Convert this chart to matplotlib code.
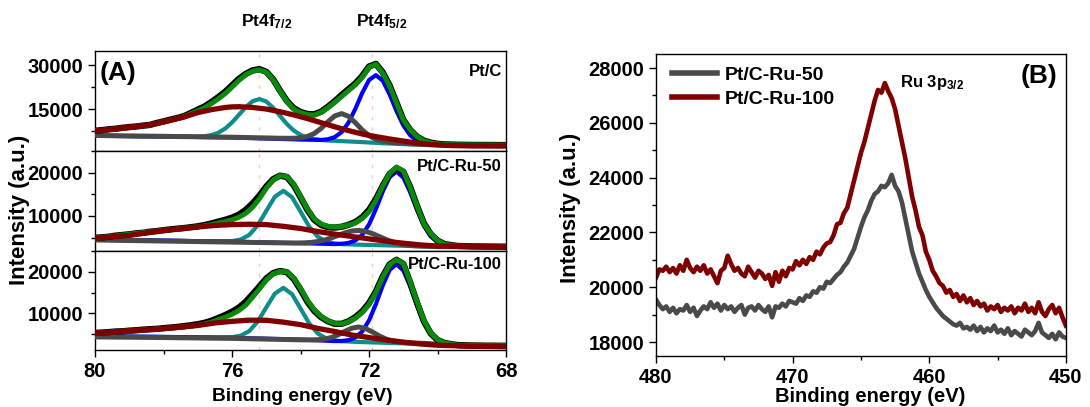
"""Pt 4f deconvolution (three catalysts) and Ru 3p3/2 region, XPS."""
import matplotlib
matplotlib.use("Agg")
import matplotlib.pyplot as plt
import numpy as np
from matplotlib.ticker import MultipleLocator, FixedLocator

plt.rcParams["font.family"] = ["Liberation Sans", "DejaVu Sans"]
plt.rcParams["font.weight"] = "bold"
plt.rcParams["mathtext.fontset"] = "custom"
plt.rcParams["mathtext.rm"] = "Liberation Sans:bold"
plt.rcParams["mathtext.it"] = "Liberation Sans:bold"
plt.rcParams["mathtext.bf"] = "Liberation Sans:bold"

# ---------------- Pt 4f (panel A) ----------------
# measured scan grid, 80 -> 68 eV in 0.2 eV steps
be_scan = np.linspace(80.0, 68.0, 61)

# Pt/C
ptc_raw = [7600, 7800, 8100, 8300, 8600, 8850, 9050, 9350, 9600, 10250, 10800, 11400, 11950, 12600, 13700,
           14800, 15900, 17400, 19100, 20900, 23100, 25300, 27000, 28200, 28600, 27700, 25100, 21300, 17800,
           15300, 14000, 13300, 13200, 14100, 15800, 17700, 19800, 21800, 23700, 26300, 29500, 30400, 27500,
           23000, 17200, 11300, 7900, 5600, 4250, 3550, 3150, 2950, 2900, 2820, 2800, 2760, 2760, 2740, 2730,
           2720, 2710]
ptc_fit = [7500, 7750, 8000, 8260, 8520, 8770, 9030, 9280, 9540, 10120, 10700, 11280, 11850, 12430, 13450,
           14450, 15450, 16900, 18500, 20300, 22500, 24800, 26700, 27900, 28350, 27600, 25000, 21200, 17600,
           15000, 13800, 13100, 12950, 13900, 15500, 17300, 19300, 21300, 23300, 25800, 29300, 30300, 27300,
           22800, 17000, 11200, 8000, 5600, 4200, 3500, 3100, 2950, 2850, 2800, 2780, 2750, 2740, 2730, 2720,
           2710, 2700]
ptc_bg_x = [80, 78, 76, 75, 74, 73, 72.4, 72, 71.6, 71.2, 70.8, 70.4, 70, 69, 68]
ptc_bg = [5900, 5650, 5300, 5050, 4600, 4150, 3850, 3600, 3350, 3100, 2950, 2850, 2800, 2750, 2700]
ptc_teal_x = [80, 78, 77.2, 77.0, 76.8, 76.6, 76.4, 76.2, 76.0, 75.8, 75.6, 75.4, 75.2, 75.0, 74.8, 74.6,
              74.4, 74.2, 74.0, 73.8, 73.6, 73.4, 73.2, 72.4, 71.6, 70.8, 70, 68]
ptc_teal = [5900, 5650, 5545, 5590, 5730, 6130, 6940, 8350, 10430, 13040, 15680, 17680, 18400, 17580, 15440,
            12660, 9910, 7700, 6170, 5230, 4710, 4440, 4275, 3850, 3350, 2950, 2800, 2700]
ptc_blue_x = [80, 78, 76, 74, 73.4, 73.2, 73.0, 72.8, 72.6, 72.4, 72.2, 72.0, 71.8, 71.6, 71.4, 71.2, 71.0,
              70.8, 70.6, 70.4, 70.2, 70, 69, 68]
ptc_blue = [5900, 5650, 5300, 4600, 4470, 4700, 5440, 7170, 10370, 15100, 20490, 24920, 26570, 24670, 19990,
            14350, 9440, 6070, 4190, 3310, 2960, 2800, 2750, 2700]
ptc_gray_x = [80, 78, 76, 74.6, 74.4, 74.2, 74.0, 73.8, 73.6, 73.4, 73.2, 73.0, 72.8, 72.6, 72.4, 72.2, 72.0,
              71.8, 71.6, 71.4, 71.2, 71.0, 70.6, 70.2, 69, 68]
ptc_gray = [6000, 5700, 5400, 5050, 5020, 5050, 5205, 5650, 6660, 8420, 10680, 12670, 13450, 12520, 10330,
            7870, 5910, 4700, 4055, 3720, 3500, 3350, 3050, 2850, 2750, 2700]
ptc_red_x = [80, 79, 78.4, 78, 77.4, 77, 76.6, 76.2, 76, 75.8, 75.4, 75, 74.6, 74.2, 73.8, 73.4, 73, 72.6,
             72.2, 71.8, 71.4, 71, 70.6, 70.2, 69.6, 69, 68]
ptc_red = [7500, 8770, 9540, 10600, 12300, 13800, 14800, 15550, 15750, 15800, 15550, 15000, 14100, 13000,
           11750, 10350, 8950, 7650, 6500, 5600, 4800, 4100, 3400, 2900, 2550, 2450, 2400]

# Pt/C-Ru-50
ru50_raw = [4950, 5050, 5200, 5450, 5600, 5750, 5980, 6100, 6350, 6500, 6700, 6900, 7050, 7200, 7400, 7600,
            7900, 8250, 8700, 9100, 9600, 10300, 11400, 12900, 14700, 16800, 18500, 19300, 19000, 17100,
            14300, 11400, 9100, 7900, 7400, 7300, 7500, 7950, 8600, 9700, 11400, 13900, 17000, 19700, 21000,
            20200, 16700, 12300, 8300, 5800, 4300, 3500, 3250, 3050, 3020, 2960, 2950, 2930, 2920, 2900, 2900]
ru50_fit = [4850, 5030, 5210, 5400, 5580, 5760, 5940, 6120, 6300, 6490, 6670, 6840, 7000, 7170, 7330, 7500,
            7720, 8000, 8350, 8700, 9100, 9700, 10600, 12000, 14000, 16400, 18300, 19300, 19100, 17300,
            14500, 11600, 9300, 8100, 7600, 7450, 7550, 7900, 8400, 9400, 11000, 13600, 16900, 19800, 21300,
            20400, 16600, 12300, 8200, 5900, 4300, 3500, 3200, 3050, 3000, 2950, 2930, 2920, 2910, 2910, 2900]
ru50_bg_x = [80, 78, 76, 75, 74, 73, 72, 71, 70, 69, 68]
ru50_bg = [4500, 4300, 4050, 3900, 3700, 3500, 3300, 3100, 2950, 2900, 2900]
ru50_teal_x = [80, 78, 76.5, 76.25, 76.0, 75.75, 75.5, 75.25, 75.0, 74.75, 74.5, 74.25, 74.0, 73.75, 73.5,
               73.25, 73.0, 72.75, 72.5, 71, 70, 68]
ru50_teal = [4500, 4300, 4110, 4110, 4180, 4540, 5600, 7840, 11180, 14430, 15800, 14330, 10980, 7550, 5220,
             4080, 3630, 3480, 3400, 3100, 2950, 2900]
ru50_blue_x = [80, 78, 76, 74, 73, 72.8, 72.6, 72.4, 72.2, 72.0, 71.8, 71.6, 71.4, 71.2, 71.0, 70.8, 70.6,
               70.4, 70.2, 70.0, 69.8, 69.6, 69, 68]
ru50_blue = [4500, 4300, 4050, 3700, 3500, 3560, 3760, 4340, 5650, 8050, 11590, 15630, 18960, 20240, 18880,
             15480, 11370, 7760, 5290, 3910, 3280, 3030, 2900, 2900]
ru50_gray_x = [80, 78, 76, 74.3, 74.1, 73.9, 73.7, 73.5, 73.3, 73.1, 72.9, 72.7, 72.5, 72.3, 72.1, 71.9,
               71.7, 71.5, 71.3, 71.1, 70.9, 70.7, 70.5, 70.3, 70, 69, 68]
ru50_gray = [4450, 4200, 3950, 3750, 3750, 3780, 3875, 4080, 4420, 4920, 5520, 6110, 6530, 6660, 6430, 5910,
             5230, 4540, 3960, 3540, 3275, 3110, 3030, 2970, 2920, 2900, 2900]
ru50_red_x = [80, 79, 78, 77.5, 77, 76.5, 76, 75.5, 75, 74.5, 74, 73.5, 73, 72.5, 72, 71.5, 71, 70.5, 70,
              69, 68]
ru50_red = [4850, 5500, 6650, 7050, 7450, 7800, 8000, 8080, 8000, 7600, 7100, 6400, 5800, 5250, 4700, 4150,
            3700, 3300, 3050, 2950, 2900]

# Pt/C-Ru-100
ru100_raw = [5300, 5400, 5500, 5650, 5700, 5850, 5950, 6100, 6200, 6300, 6450, 6600, 6750, 6950, 7150, 7400,
             7750, 8250, 8900, 9600, 10400, 11400, 12800, 14600, 16500, 18400, 19700, 20200, 19900, 18300,
             15700, 12800, 10600, 9100, 8100, 7500, 7500, 8100, 9100, 10500, 12500, 15300, 18900, 21800,
             22900, 21900, 17400, 12600, 8100, 5200, 3600, 2900, 2600, 2380, 2300, 2280, 2260, 2240, 2240,
             2220, 2200]
ru100_fit = [5220, 5330, 5440, 5560, 5670, 5790, 5900, 6020, 6130, 6250, 6370, 6500, 6650, 6800, 6980, 7180,
             7450, 7900, 8500, 9100, 9800, 10700, 12000, 13900, 15900, 18000, 19500, 20100, 20000, 18500,
             16000, 13100, 10900, 9300, 8200, 7600, 7500, 8000, 8900, 10200, 12200, 15000, 18700, 21700,
             22900, 22000, 17600, 12800, 8300, 5300, 3700, 2900, 2600, 2350, 2300, 2270, 2250, 2240, 2230,
             2220, 2200]
ru100_bg_x = [80, 78, 76, 75, 74, 73, 72, 71, 70, 69, 68]
ru100_bg = [4500, 4350, 4150, 4000, 3700, 3350, 3050, 2800, 2550, 2350, 2200]
ru100_teal_x = [80, 78, 76.5, 76.25, 76.0, 75.75, 75.5, 75.25, 75.0, 74.75, 74.5, 74.25, 74.0, 73.75, 73.5,
                73.25, 73.0, 72.75, 72.5, 72, 71, 70, 69, 68]
ru100_teal = [4500, 4350, 4200, 4210, 4285, 4650, 5740, 8040, 11470, 14780, 16150, 14630, 11170, 7610, 5190,
              3980, 3485, 3310, 3200, 3050, 2800, 2550, 2350, 2200]
ru100_blue_x = [80, 78, 76, 74, 73, 72.8, 72.6, 72.4, 72.2, 72.0, 71.8, 71.6, 71.4, 71.2, 71.0, 70.8, 70.6,
                70.4, 70.2, 70.0, 69.8, 69.6, 69, 68]
ru100_blue = [4500, 4350, 4150, 3700, 3350, 3360, 3580, 4210, 5670, 8330, 12250, 16740, 20440, 21850, 20340,
              16540, 11950, 7930, 5170, 3610, 2890, 2580, 2350, 2200]
ru100_gray_x = [80, 78, 76, 74.3, 74.1, 73.9, 73.7, 73.5, 73.3, 73.1, 72.9, 72.7, 72.5, 72.3, 72.1, 71.9,
                71.7, 71.5, 71.3, 71.1, 70.9, 70.7, 70.5, 70.3, 70, 69, 68]
ru100_gray = [4350, 4200, 4000, 3700, 3670, 3640, 3640, 3680, 3830, 4200, 4860, 5710, 6460, 6740, 6370,
              5530, 4580, 3820, 3350, 3100, 2970, 2880, 2820, 2760, 2600, 2350, 2200]
ru100_red_x = [80, 79, 78, 77.5, 77, 76.5, 76, 75.5, 75, 74.5, 74, 73.5, 73, 72.5, 72, 71.5, 71, 70.5, 70,
               69, 68]
ru100_red = [5220, 5790, 6370, 6700, 7100, 7700, 8100, 8380, 8350, 7900, 7300, 6400, 5650, 4800, 4200,
             3600, 3100, 2650, 2350, 2100, 2000]

# Pt(0) reference positions (dashed guides)
pt_ref = [75.2, 71.9]

# ---------------- Ru 3p3/2 (panel B) ----------------
# scan grid, 480 -> 450 eV in 0.25 eV steps
be_ru = np.linspace(480.0, 450.0, 121)
ru3p_50 = [19550, 19350, 19200, 19300, 19100, 19250, 19050, 19200, 19150, 19350, 19100, 19250, 18950, 19150,
           19300, 19200, 19450, 19250, 19400, 19150, 19350, 19200, 19300, 19100, 19250, 19350, 19000, 19250,
           19300, 19150, 19350, 19200, 19100, 19300, 18900, 19300, 19250, 19400, 19300, 19500, 19450,
           19400, 19600, 19500, 19700, 19650, 19850, 19800, 20000, 19950, 20200, 20150, 20300, 20450, 20550,
           20750, 20900, 21150, 21400, 21800, 22200, 22550, 22800, 23150, 23400, 23500, 23700, 23650, 23800,
           24100, 23700, 23500, 23100, 22500, 21900, 21300, 20900, 20500, 20200, 19900, 19650,
           19450, 19250, 19100, 18950, 18850, 18750, 18650, 18600, 18700, 18500, 18550, 18450, 18600, 18400,
           18550, 18350, 18500, 18400, 18600, 18350, 18450, 18300, 18500, 18250, 18400, 18300, 18200, 18450,
           18350, 18250, 18400, 18700, 18350, 18250, 18150, 18300, 18100, 18350, 18200, 18150]
ru3p_100 = [20350, 20650, 20600, 20750, 20550, 20700, 20500, 20800, 20600, 21000, 20700, 20550, 20750, 20600,
            20800, 20500, 20650, 20400, 20150, 20600, 20700, 21150, 20850, 20600, 20700, 20500, 20400, 20750,
            20550, 20350, 20600, 20500, 20300, 20450, 20050, 20550, 20200, 20600, 20400, 20700, 20650,
            20950, 20800, 21000, 20850, 21100, 21000, 21300, 21200, 21450, 21600, 21650, 21900, 22300, 22350,
            22700, 22900, 23400, 23900, 24400, 24900, 25300, 25800, 26300, 26800, 27200, 27100, 27450, 27150,
            26900, 26500, 25900, 25300, 24700, 24000, 23300, 22800, 22200, 21900, 21300, 21000,
            20600, 20400, 20150, 20050, 19800, 19900, 19650, 19750, 19500, 19700, 19450, 19600, 19350, 19500,
            19300, 19400, 19150, 19300, 19200, 19350, 19100, 19250, 19150, 19300, 19050, 19250, 19150, 19400,
            19100, 19250, 19050, 19450, 19100, 18950, 19200, 19350, 19050, 19250, 18900, 18600]

C_TEAL = "#0f8c8c"
C_BLUE = "#0000ff"
C_GRAY = "#4a4a4a"
C_RED = "#800000"
C_GREEN = "#0a8a0a"
C_BG = "#22ee22"

fig = plt.figure(figsize=(10.9, 4.07), dpi=100)

panel_a = [
    dict(name="Pt/C", raw=ptc_raw, fit=ptc_fit, bg=(ptc_bg_x, ptc_bg), teal=(ptc_teal_x, ptc_teal),
         blue=(ptc_blue_x, ptc_blue), gray=(ptc_gray_x, ptc_gray), red=(ptc_red_x, ptc_red),
         ylim=(700, 34800), major=[15000, 30000], minor=7500, rect=[0.0872, 0.629, 0.3771, 0.2457]),
    dict(name="Pt/C-Ru-50", raw=ru50_raw, fit=ru50_fit, bg=(ru50_bg_x, ru50_bg), teal=(ru50_teal_x, ru50_teal),
         blue=(ru50_blue_x, ru50_blue), gray=(ru50_gray_x, ru50_gray), red=(ru50_red_x, ru50_red),
         ylim=(1900, 25000), major=[10000, 20000], minor=5000, rect=[0.0872, 0.3833, 0.3771, 0.2457]),
    dict(name="Pt/C-Ru-100", raw=ru100_raw, fit=ru100_fit, bg=(ru100_bg_x, ru100_bg),
         teal=(ru100_teal_x, ru100_teal), blue=(ru100_blue_x, ru100_blue), gray=(ru100_gray_x, ru100_gray),
         red=(ru100_red_x, ru100_red), ylim=(1200, 25000), major=[10000, 20000], minor=5000,
         rect=[0.0872, 0.140, 0.3771, 0.2432]),
]

axes_a = []
for i, p in enumerate(panel_a):
    ax = fig.add_axes(p["rect"])
    for xr in pt_ref:
        ax.axvline(xr, color="#ffc4c4", lw=1.0, ls=(0, (2.5, 5)), zorder=0)
    ax.plot(*p["bg"], color=C_BG, lw=1.2, zorder=1)
    ax.plot(*p["teal"], color=C_TEAL, lw=3.0, zorder=2)
    ax.plot(*p["blue"], color=C_BLUE, lw=3.0, zorder=2)
    ax.plot(*p["gray"], color=C_GRAY, lw=3.6, zorder=3)
    ax.plot(be_scan, p["raw"], color="black", lw=4.6, zorder=4)
    ax.plot(be_scan, p["fit"], color=C_GREEN, lw=3.6, zorder=5)
    ax.plot(*p["red"], color=C_RED, lw=3.8, zorder=6)
    ax.set_xlim(80, 68)
    ax.set_ylim(*p["ylim"])
    ax.yaxis.set_major_locator(FixedLocator(p["major"]))
    ax.yaxis.set_minor_locator(MultipleLocator(p["minor"]))
    ax.xaxis.set_major_locator(FixedLocator([80, 76, 72, 68]))
    ax.xaxis.set_minor_locator(FixedLocator([78, 74, 70]))
    ax.tick_params(which="both", direction="out", width=1.0, labelsize=14.5, right=False, top=False)
    ax.tick_params(which="major", length=5)
    ax.tick_params(which="minor", length=3)
    if i < 2:
        ax.tick_params(axis="x", which="both", bottom=False, labelbottom=False)
    for s in ax.spines.values():
        s.set_linewidth(1.0)
    ax.text(0.99, [0.79, 0.843, 0.86][i], p["name"], transform=ax.transAxes, ha="right", va="center",
            fontsize=12, fontweight="bold", zorder=1)
    axes_a.append(ax)

axes_a[0].text(0.01, 0.78, "(A)", transform=axes_a[0].transAxes, ha="left", va="center",
               fontsize=19, fontweight="bold")
fig.text(0.221, 0.946, r"Pt4f$_{\mathregular{7/2}}$", ha="left", va="center", fontsize=12.5, fontweight="bold")
fig.text(0.327, 0.946, r"Pt4f$_{\mathregular{5/2}}$", ha="left", va="center", fontsize=12.5, fontweight="bold")
fig.text(0.277, 0.027, "Binding energy (eV)", ha="center", va="center", fontsize=13.8, fontweight="bold")
fig.text(0.018, 0.484, "Intensity (a.u.)", ha="center", va="center", rotation=90, fontsize=16,
         fontweight="bold")

# ---------------- panel B ----------------
axb = fig.add_axes([0.6018, 0.126, 0.3761, 0.7405])
axb.plot(be_ru, ru3p_50, color=C_GRAY, lw=3.3, label="Pt/C-Ru-50")
axb.plot(be_ru, ru3p_100, color=C_RED, lw=3.3, label="Pt/C-Ru-100")
axb.set_xlim(480, 450)
axb.set_ylim(17500, 28500)
axb.xaxis.set_major_locator(MultipleLocator(10))
axb.xaxis.set_minor_locator(MultipleLocator(5))
axb.yaxis.set_major_locator(MultipleLocator(2000))
axb.yaxis.set_minor_locator(MultipleLocator(1000))
axb.tick_params(which="both", direction="out", width=1.0, labelsize=14.5, right=False, top=False)
axb.tick_params(which="major", length=5)
axb.tick_params(which="minor", length=3)
for s in axb.spines.values():
    s.set_linewidth(1.0)
leg = axb.legend(loc="upper left", bbox_to_anchor=(0.02, 0.985), frameon=False, fontsize=14,
                 handlelength=2.3, handletextpad=0.4, labelspacing=0.3, borderaxespad=0)
for h in leg.get_lines():
    h.set_linewidth(4.0)
axb.text(0.595, 0.908, r"Ru 3p$_{\mathregular{3/2}}$", transform=axb.transAxes, ha="left", va="center",
         fontsize=12, fontweight="bold")
axb.text(0.978, 0.928, "(B)", transform=axb.transAxes, ha="right", va="center", fontsize=19,
         fontweight="bold")
fig.text(0.798, 0.025, "Binding energy (eV)", ha="center", va="center", fontsize=14.5, fontweight="bold")
fig.text(0.523, 0.49, "Intensity (a.u.)", ha="center", va="center", rotation=90, fontsize=16,
         fontweight="bold")

fig.savefig("out.png", dpi=100)
